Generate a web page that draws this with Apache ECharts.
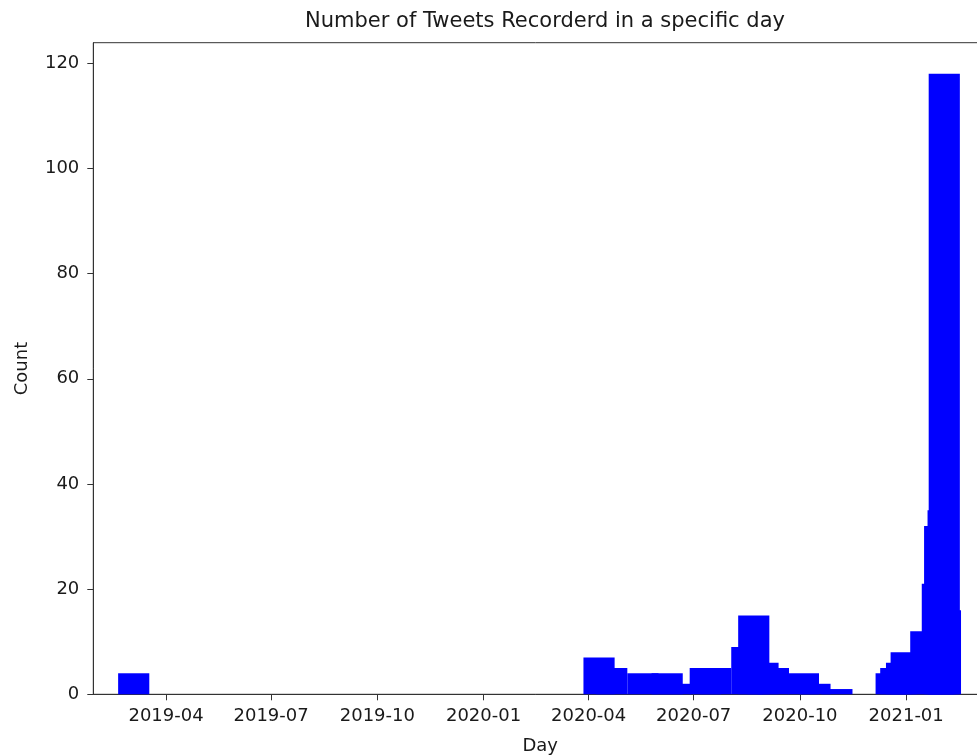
<!DOCTYPE html>
<html>
<head>
<meta charset="utf-8">
<script src="https://cdn.jsdelivr.net/npm/echarts@6/dist/echarts.min.js"></script>
<style>
html,body{margin:0;padding:0;background:#fff;}
#chart{width:977px;height:756px;}
</style>
</head>
<body>
<div id="chart"></div>
<script>
// ---- data ----
const days = ['2019-03-04','2020-04-10','2020-04-21','2020-05-18','2020-06-08','2020-06-15',
  '2020-07-11','2020-07-20','2020-08-16','2020-08-22','2020-08-30','2020-09-08','2020-10-04',
  '2020-10-14','2020-11-02','2020-12-19','2020-12-23','2020-12-28','2021-01-01','2021-01-18',
  '2021-01-28','2021-01-30','2021-02-02','2021-02-03','2021-02-04'];
const counts = [4,7,5,4,4,2,5,5,9,15,6,5,4,2,1,4,5,6,8,12,21,32,35,118,16];
const xTickLabels = ['2019-04','2019-07','2019-10','2020-01','2020-04','2020-07','2020-10','2021-01'];
const yTickLabels = [0,20,40,60,80,100,120];
const barDays = 27;

const DAY = 86400000;
function toDay(s){
  const p = s.split('-').map(Number);
  return Date.UTC(p[0], p[1]-1, p[2] || 1) / DAY;   // day number on a value axis
}
function dayLabel(v){
  const d = new Date(Math.round(v) * DAY);
  return d.getUTCFullYear() + '-' + String(d.getUTCMonth()+1).padStart(2,'0');
}
const seriesData = days.map((d,i)=>[toDay(d), counts[i]]);
const xTicks = xTickLabels.map(toDay);
const xMin = toDay('2019-01-28'), xMax = toDay('2021-03-12');

const chart = echarts.init(document.getElementById('chart'));
const font = 'DejaVu Sans';
const lineCol = '#333';
chart.setOption({
  animation:false,
  backgroundColor:'#fff',
  title:{
    text:'Number of Tweets Recorderd in a specific day',
    left:540, top:6, textAlign:'center',
    textStyle:{fontFamily:font,fontSize:21,fontWeight:'normal',color:'#1a1a1a'}
  },
  grid:{left:93.3, top:42.7, right:-10, bottom:61.7, outerBoundsMode:'none', containLabel:false,
        show:true, borderColor:lineCol, borderWidth:1, backgroundColor:'transparent'},
  xAxis:{
    type:'value', min:xMin, max:xMax,
    name:'Day', nameLocation:'middle', nameGap:43,
    nameTextStyle:{fontFamily:font,fontSize:18,color:'#1a1a1a'},
    axisLine:{show:true,lineStyle:{color:lineCol,width:1}},
    axisTick:{show:true,length:6,lineStyle:{color:lineCol},customValues:xTicks},
    axisLabel:{fontFamily:font,fontSize:18,color:'#1a1a1a',margin:13,customValues:xTicks,formatter:dayLabel},
    splitLine:{show:false}, minorTick:{show:false}
  },
  yAxis:{
    type:'value', min:0, max:123.9,
    name:'Count', nameLocation:'middle', nameGap:62, nameRotate:90,
    nameTextStyle:{fontFamily:font,fontSize:18,color:'#1a1a1a'},
    axisLine:{show:true,lineStyle:{color:lineCol,width:1}},
    axisTick:{show:true,length:6,lineStyle:{color:lineCol},customValues:yTickLabels},
    axisLabel:{fontFamily:font,fontSize:18,color:'#1a1a1a',margin:14,customValues:yTickLabels},
    splitLine:{show:false}
  },
  series:[{
    type:'custom',
    data:seriesData,
    encode:{x:0,y:1},
    renderItem:function(params,api){
      const t=api.value(0), v=api.value(1);
      const half=barDays/2;
      const p0=api.coord([t-half,v]);
      const p1=api.coord([t+half,0]);
      return {type:'rect',shape:{x:p0[0],y:p0[1],width:p1[0]-p0[0],height:p1[1]-p0[1]},style:{fill:'#0000ff'}};
    }
  }]
});
</script>
</body>
</html>
